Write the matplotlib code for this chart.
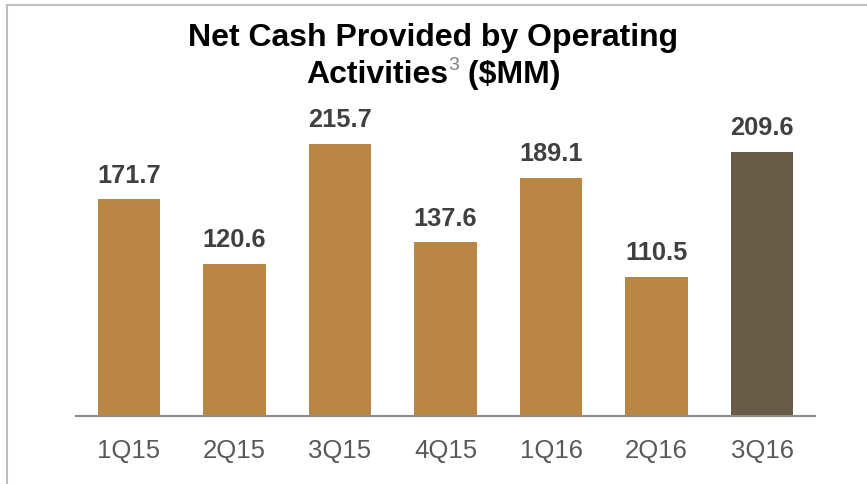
import matplotlib
matplotlib.use("Agg")
import matplotlib.pyplot as plt
from matplotlib.lines import Line2D

categories = ["1Q15", "2Q15", "3Q15", "4Q15", "1Q16", "2Q16", "3Q16"]
values = [171.7, 120.6, 215.7, 137.6, 189.1, 110.5, 209.6]
colors = ["#B98743"] * 6 + ["#695C47"]

plt.rcParams['font.family'] = ['Liberation Sans', 'DejaVu Sans']

W, H = 867, 485
fig = plt.figure(figsize=(W / 100, H / 100), dpi=100)

# axes: x from 76 to 815 px, baseline at y=417 px, top at y=100 px
ax_left, ax_right = 76, 815
ax_bottom, ax_top = 417, 100
ax = fig.add_axes([ax_left / W, 1 - ax_bottom / H, (ax_right - ax_left) / W, (ax_bottom - ax_top) / H])
ppu = 272 / 215.7
ax.set_ylim(0, (ax_bottom - ax_top) / ppu)
ax.set_xlim(-0.5, len(categories) - 0.5)

x = range(len(categories))
bars = ax.bar(x, values, width=0.59, color=colors)
for xi, v in zip(x, values):
    ax.annotate(f"{v:.1f}", (xi, v), xytext=(0, 9), textcoords="offset points",
                ha="center", va="bottom", fontsize=18.3, fontweight="bold", color="#404040")

for s in ["top", "right", "left"]:
    ax.spines[s].set_visible(False)
ax.spines["bottom"].set_color("#8C8C8C")
ax.spines["bottom"].set_linewidth(1.5)
ax.set_yticks([])
ax.set_xticks(list(x))
ax.set_xticklabels(categories, fontsize=18.5, color="#595959")
ax.tick_params(axis="x", length=0, pad=16)

# Title
fig.text(0.5, 1 - 38 / H, "Net Cash Provided by Operating", ha="center", va="center",
         fontsize=23, fontweight="bold", color="black")

fig.canvas.draw()
r = fig.canvas.get_renderer()
y2 = 1 - 75 / H
parts = [("Activities", dict(fontsize=23, fontweight="bold", color="black"), 0),
         ("3", dict(fontsize=14, fontweight="normal", color="#7F7F7F"), 9 / H),
         (" ($MM)", dict(fontsize=23, fontweight="bold", color="black"), 0)]
texts = []
widths = []
for s, kw, dy in parts:
    t = fig.text(0, y2 + dy, s, ha="left", va="center", **kw)
    widths.append(t.get_window_extent(r).width)
    texts.append(t)
total = sum(widths)
xpos = (W - total) / 2
for t, w in zip(texts, widths):
    t.set_x(xpos / W)
    xpos += w

# border lines (top and left)
fig.add_artist(Line2D([7 / W, 1], [1 - 5.5 / H, 1 - 5.5 / H], color="#BFBFBF", lw=1.5, transform=fig.transFigure))
fig.add_artist(Line2D([7 / W, 7 / W], [0, 1 - 5.5 / H], color="#BFBFBF", lw=1.5, transform=fig.transFigure))

fig.savefig("out.png", dpi=100)
